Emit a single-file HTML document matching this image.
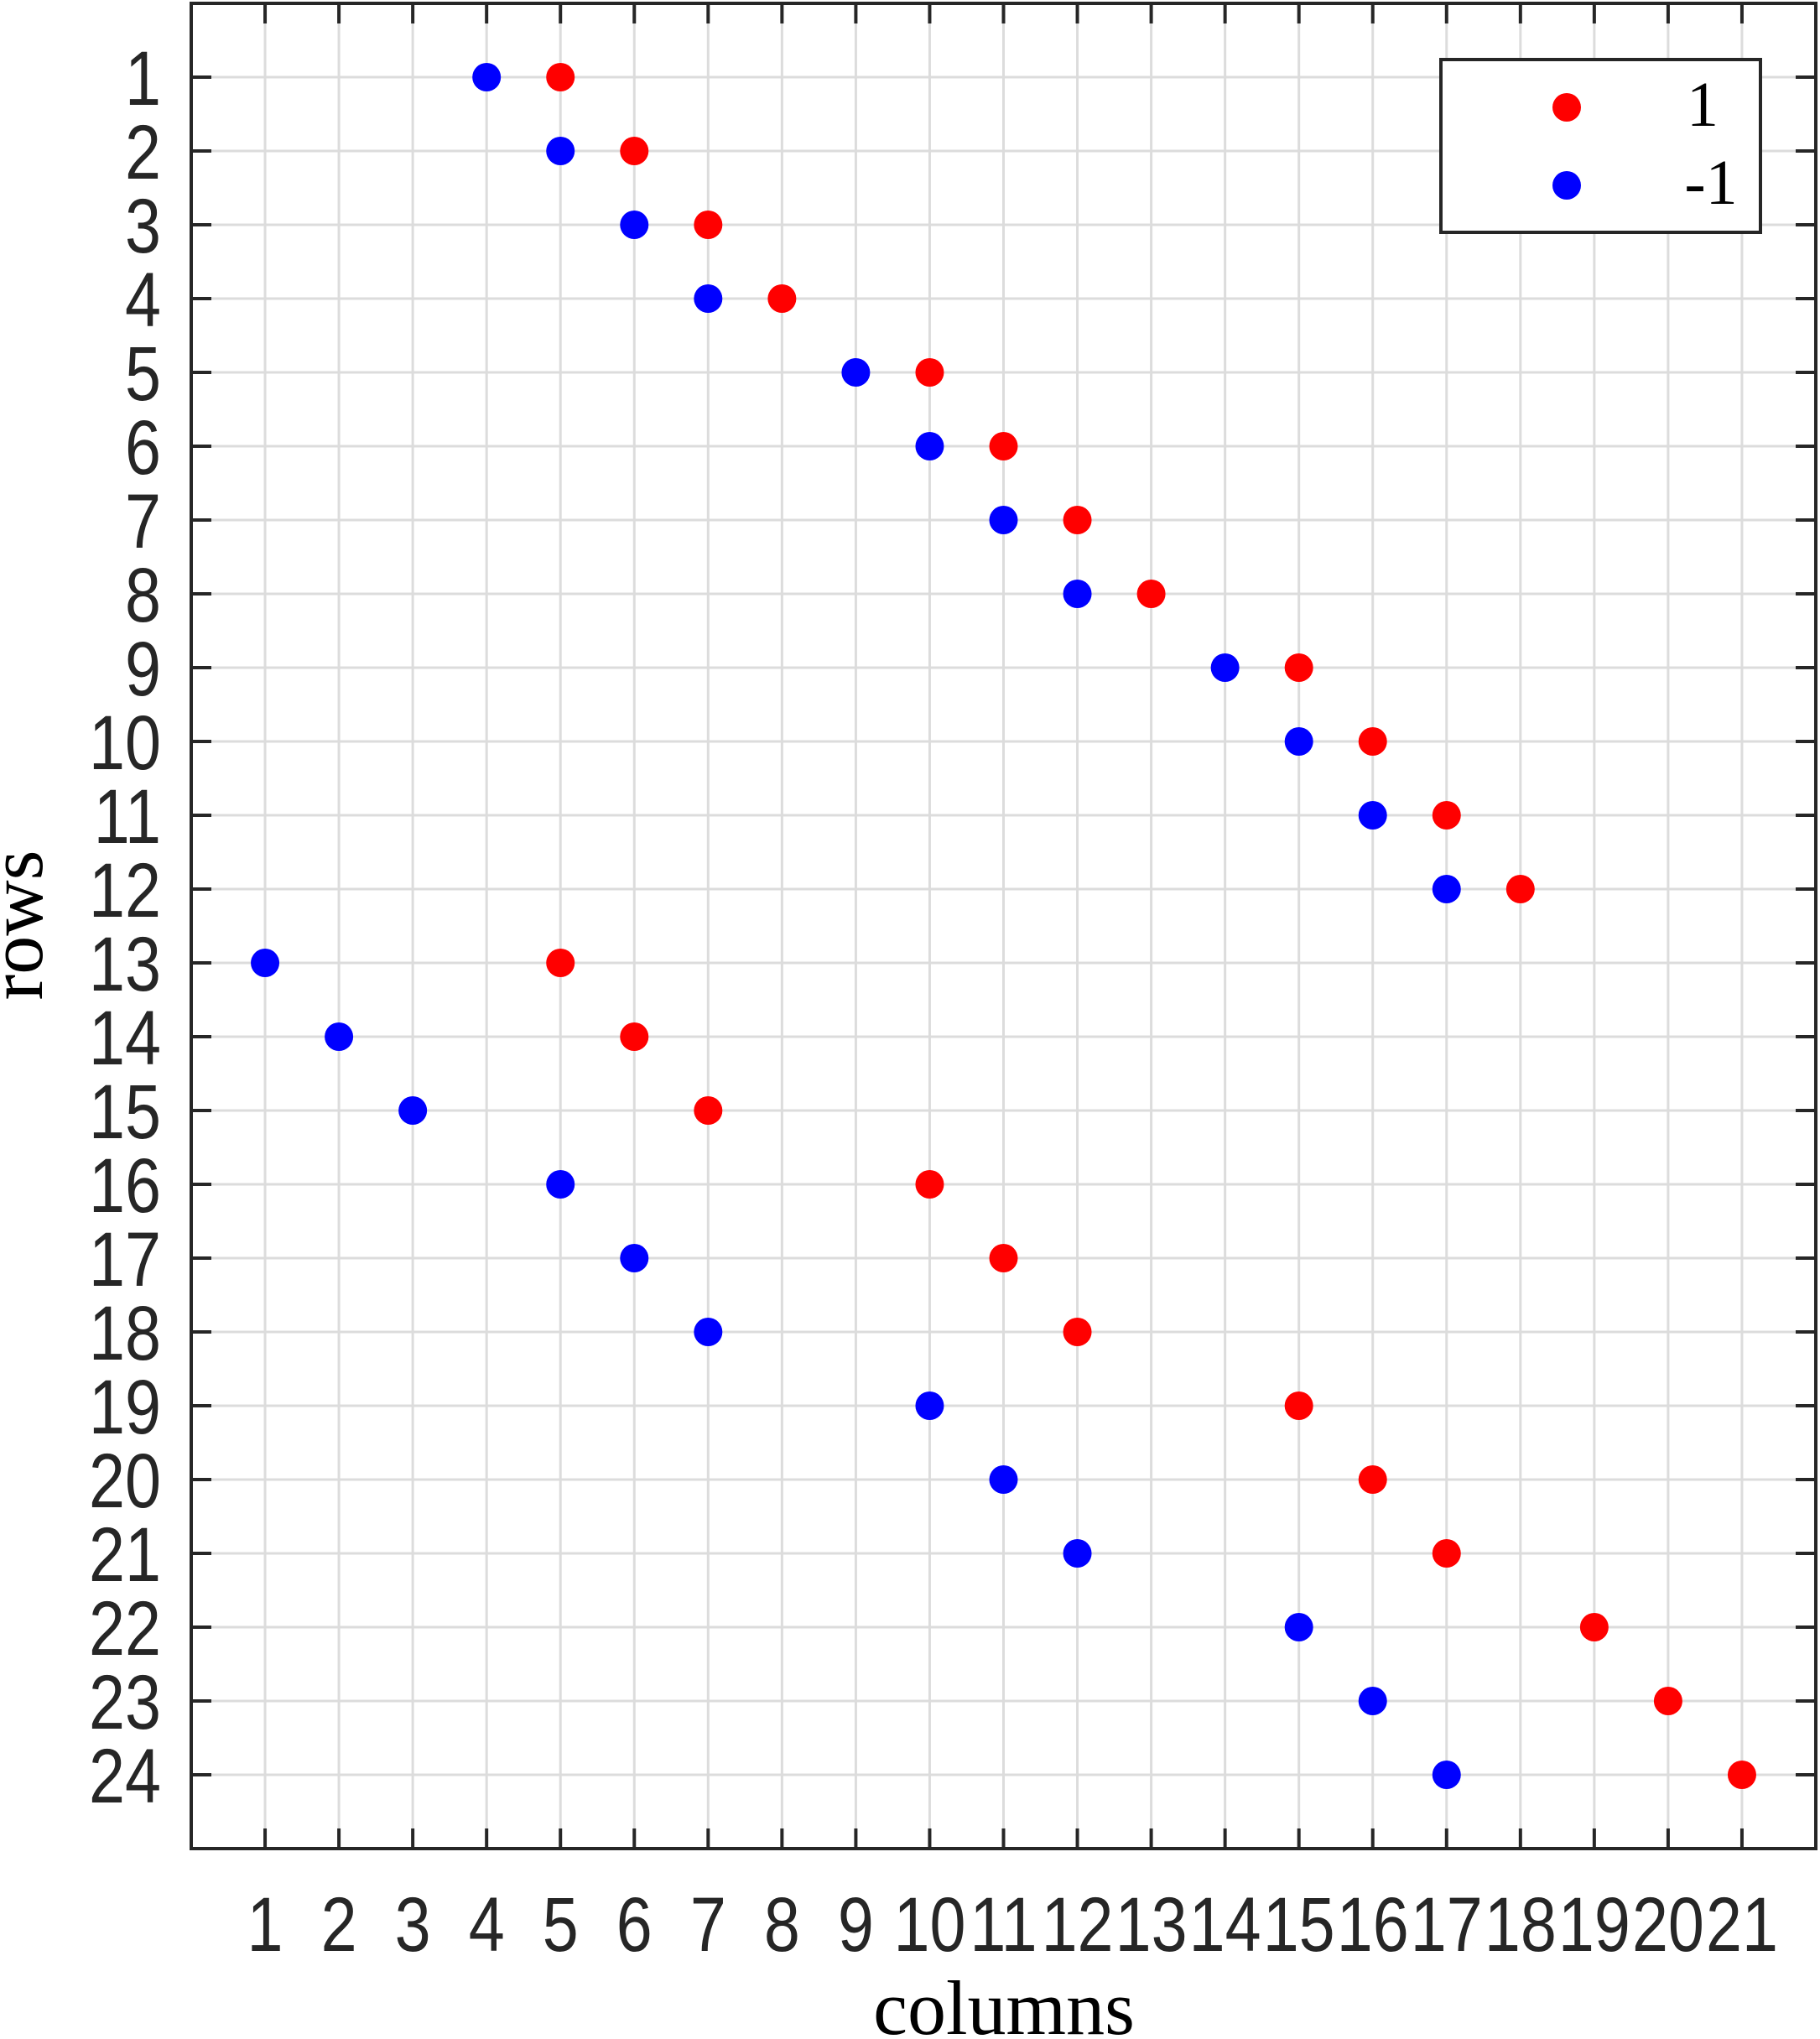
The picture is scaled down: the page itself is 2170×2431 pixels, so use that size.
<!DOCTYPE html>
<html><head><meta charset="utf-8"><style>
html,body{margin:0;padding:0;background:#fff;}
svg{display:block;}
.tk{font-family:"Liberation Sans",sans-serif;font-size:92px;fill:#262626;}
.sf{font-family:"Liberation Serif",serif;fill:#000;}
</style></head><body>
<svg id="chart" width="2170" height="2431" viewBox="0 0 2170 2431" xmlns="http://www.w3.org/2000/svg">
<g id="grid"></g>
<g id="axes"></g>
<g id="marks"></g>
<text class="sf" x="1197" y="2425" font-size="92" text-anchor="middle">columns</text>
<text class="sf" transform="translate(50,1103) rotate(-90)" font-size="92" text-anchor="middle">rows</text>
<g>
<rect x="1718" y="71" width="381" height="206" fill="#fff" stroke="#262626" stroke-width="4"/>
<circle cx="1868" cy="128" r="17" fill="#ff0000"/>
<text class="sf" x="2030" y="150" font-size="76" text-anchor="middle">1</text>
<circle cx="1868" cy="221" r="17" fill="#0000ff"/>
<text class="sf" x="2040" y="243" font-size="76" text-anchor="middle">-1</text>
</g>
</svg>
<script>
const rows = [1,2,3,4,5,6,7,8,9,10,11,12,13,14,15,16,17,18,19,20,21,22,23,24];
const redCols = [5,6,7,8,10,11,12,13,15,16,17,18,5,6,7,10,11,12,15,16,17,19,20,21];
const blueCols = [4,5,6,7,9,10,11,12,14,15,16,17,1,2,3,5,6,7,10,11,12,15,16,17];
const xTicks = [1,2,3,4,5,6,7,8,9,10,11,12,13,14,15,16,17,18,19,20,21];
const yTicks = [1,2,3,4,5,6,7,8,9,10,11,12,13,14,15,16,17,18,19,20,21,22,23,24];

const L=228,R=2165,T=4,B=2204;
const xMin=0,xMax=22,yMin=0,yMax=25;
function sx(v){return L+(v-xMin)/(xMax-xMin)*(R-L);}
function sy(v){return T+(v-yMin)/(yMax-yMin)*(B-T);}
const NS='http://www.w3.org/2000/svg';
function mk(tag,attrs,parent){const e=document.createElementNS(NS,tag);for(const k in attrs)e.setAttribute(k,attrs[k]);parent.appendChild(e);return e;}
const grid=document.getElementById('grid'),axes=document.getElementById('axes'),marks=document.getElementById('marks');
const SC=0.84;
xTicks.forEach(v=>{
  const g=mk('line',{x1:sx(v),x2:sx(v),y1:T,y2:B,stroke:'#dcdcdc','stroke-width':3},grid);
  
  
  const t1=mk('line',{x1:sx(v),x2:sx(v),y1:B,y2:B-24,stroke:'#262626','stroke-width':4},axes);
  
  
  const t2=mk('line',{x1:sx(v),x2:sx(v),y1:T,y2:T+24,stroke:'#262626','stroke-width':4},axes);
  
  
  const tx=mk('text',{x:0,y:0,'text-anchor':'middle',class:'tk',transform:'translate('+sx(v)+',2326) scale('+SC+',1)'},axes);
  tx.textContent=v;
  
  
});
yTicks.forEach(v=>{
  const g=mk('line',{x1:L,x2:R,y1:sy(v),y2:sy(v),stroke:'#dcdcdc','stroke-width':3},grid);
  
  
  const t1=mk('line',{x1:L,x2:L+24,y1:sy(v),y2:sy(v),stroke:'#262626','stroke-width':4},axes);
  
  
  const t2=mk('line',{x1:R,x2:R-24,y1:sy(v),y2:sy(v),stroke:'#262626','stroke-width':4},axes);
  
  
  const tx=mk('text',{x:0,y:0,'text-anchor':'end',class:'tk',transform:'translate(192,'+(sy(v)+33)+') scale('+SC+',1)'},axes);
  tx.textContent=v;
  
  
});
const box=mk('rect',{x:L,y:T,width:R-L,height:B-T,fill:'none',stroke:'#262626','stroke-width':4},axes);


rows.forEach((r,i)=>{
  const c=mk('circle',{cx:sx(redCols[i]),cy:sy(r),r:17,fill:'#ff0000'},marks);
  
  
  const b=mk('circle',{cx:sx(blueCols[i]),cy:sy(r),r:17,fill:'#0000ff'},marks);
  
  
});
</script>
</body></html>
